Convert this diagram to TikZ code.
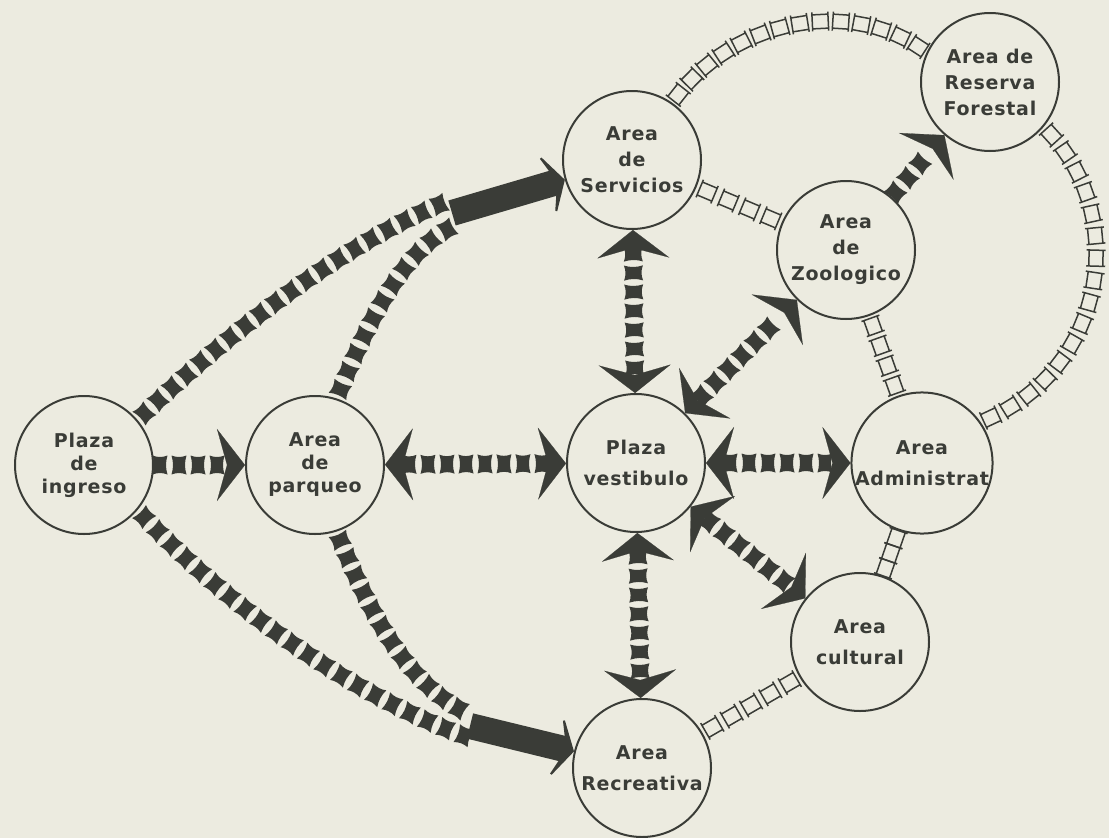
\documentclass[tikz,border=0pt]{standalone}
\usepackage{fontspec}
\setmainfont{DejaVu Sans}[LetterSpace=4]
\usetikzlibrary{arrows.meta, decorations.markings}
\definecolor{paper}{RGB}{236,235,224}
\definecolor{ink}{RGB}{58,60,55}

% one dark link piece, concave on all four sides
\newcommand{\strongblock}{\fill[ink] (-7.5,-9.5) .. controls (-5.5,-3) and (-5.5,3) .. (-7.5,9.5)
  .. controls (-2.5,7.5) and (2.5,7.5) .. (7.5,9.5) .. controls (5.5,3) and (5.5,-3) .. (7.5,-9.5)
  .. controls (2.5,-7.5) and (-2.5,-7.5) .. (-7.5,-9.5) -- cycle;}
% one open link piece
\newcommand{\weakblock}{\draw[ink, line width=1.5pt] (-8,-7) rectangle (8,7)
  (-8,-9.5) -- (-8,9.5) (8,-9.5) -- (8,9.5);}

\begin{document}
\begin{tikzpicture}[x=1pt, y=-1pt,
    area node/.style={circle, draw=ink, line width=2pt, minimum size=138pt, inner sep=0pt,
      align=center, text=ink, font=\bfseries\fontsize{19}{26}\selectfont},
    strong link/.style={draw=paper, line width=0.2pt,
      >={Stealth[length=28pt, width=72pt, inset=10pt, color=ink]}},
    strong chain/.style={postaction={decorate, decoration={markings,
      mark=between positions #1 step 19pt with {\strongblock}}}},
    strong run/.style={postaction={decorate, decoration={markings,
      mark=between positions 0.5/#1 and 1 step 1/#1 with {\strongblock}}}},
    weak chain/.style={postaction={decorate, decoration={markings,
      mark=between positions 0.5/#1 and 1 step 1/#1 with {\weakblock}}}},
    merge arrow/.style={draw=ink, line width=26pt,
      -{Stealth[length=22pt, width=76pt, inset=14pt]}}
  ]

  \fill[paper] (0,0) rectangle (1109,838);
  \useasboundingbox (0,0) rectangle (1109,838);

  % --- areas ---
  \node[area node] (ing) at (84,465) {Plaza\\[-3pt]de\\[-3pt]ingreso};
  \node[area node] (par) at (315,465) {Area\\[-3pt]de\\[-3pt]parqueo};
  \node[area node] (ves) at (636,463) {Plaza\\[5pt]vestibulo};
  \node[area node] (adm) at (922,463) {Area\\[5pt]Administrat};
  \node[area node] (ser) at (632,160) {Area\\de\\Servicios};
  \node[area node] (zoo) at (846,250) {Area\\de\\Zoologico};
  \node[area node] (res) at (990,82) {Area de\\Reserva\\Forestal};
  \node[area node] (cul) at (860,642) {Area\\[5pt]cultural};
  \node[area node] (rec) at (642,768) {Area\\[5pt]Recreativa};

  % --- direct links ---
  \draw[strong link, <->, strong chain={24pt and -24pt}] (ser) -- (ves);
  \draw[strong link, <->, strong chain={24pt and -24pt}] (par) -- (ves);
  \draw[strong link, <->, strong chain={24pt and -24pt}] (ves) -- (adm);
  \draw[strong link, <->, strong chain={24pt and -24pt}] (ves) -- (rec);
  \draw[strong link, <->, strong chain={24pt and -24pt}] (ves) -- (zoo);
  \draw[strong link, <->, strong chain={24pt and -24pt}] (ves) -- (cul);
  \draw[strong link, ->, strong chain={6pt and -24pt}] (ing) -- (par);
  \draw[strong link, ->, strong chain={6pt and -24pt}] (zoo) -- (res);

  % --- joined links to services and recreation ---
  \coordinate (mser) at (452,213);
  \coordinate (mserA) at (448,201);
  \coordinate (mserB) at (456,225);
  \draw[merge arrow] (mser) -- (ser);
  \path[strong run=20] (mserA) .. controls (350,240) and (230,330) .. (ing.40);
  \path[strong run=11] (mserB) .. controls (400,250) and (365,330) .. (par.72);

  \coordinate (mrec) at (470,726);
  \coordinate (mrecA) at (473,739);
  \coordinate (mrecB) at (467,713);
  \draw[merge arrow] (mrec) -- (rec);
  \path[strong run=21] (mrecA) .. controls (360,700) and (230,610) .. (ing.-40);
  \path[strong run=12] (mrecB) .. controls (400,680) and (365,600) .. (par.-72);

  % --- indirect links ---
  \path[weak chain=4] (ser) -- (zoo);
  \path[weak chain=14] (ser.55) .. controls (730,20) and (850,-5) .. (res.155);
  \path[weak chain=16] (res.-40) .. controls (1130,210) and (1110,370) .. (adm.35);
  \path[weak chain=4] (zoo) -- (adm);
  \path[weak chain=3] (adm) -- (cul);
  \path[weak chain=5] (cul) -- (rec);

\end{tikzpicture}
\end{document}
